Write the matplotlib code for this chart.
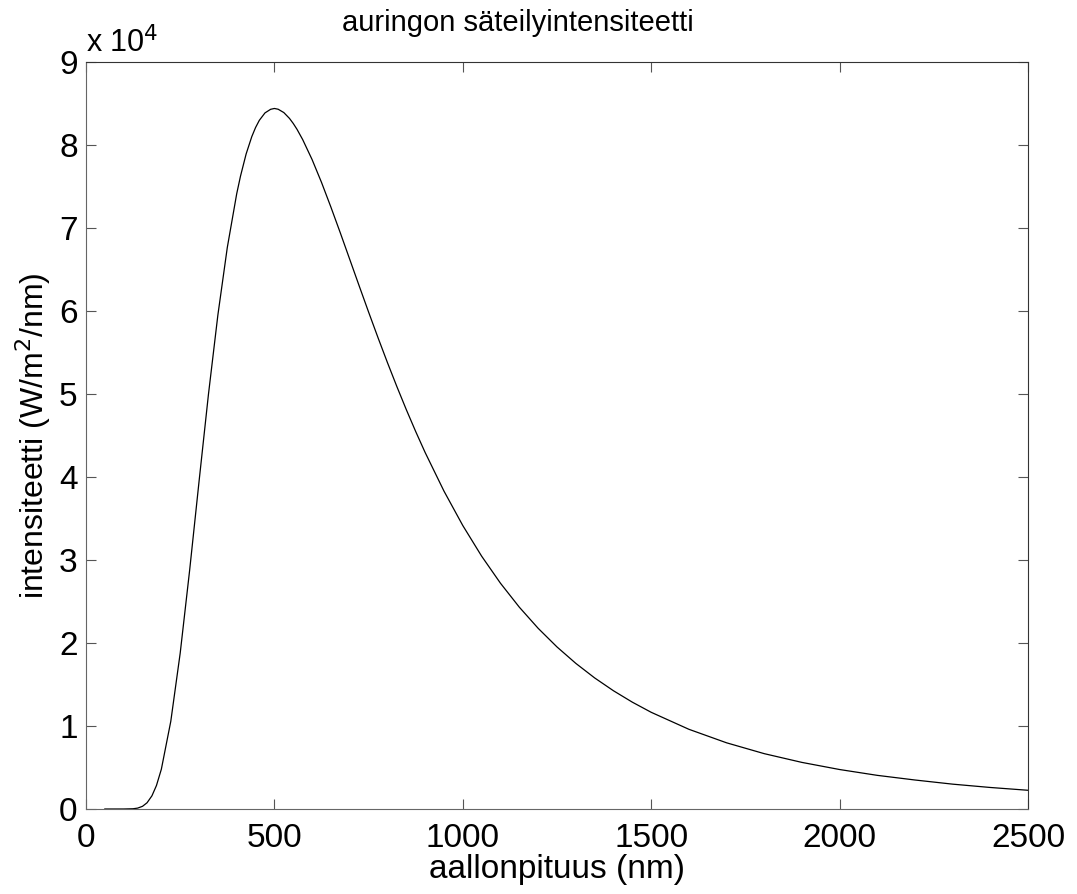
import matplotlib.pyplot as plt

# wavelength (nm) and intensity (W/m^2/nm)
wavelength = [50, 75, 100, 125, 137, 150, 162, 175, 187, 200, 225, 250, 275, 300, 325,
              350, 375, 400, 410, 425, 440, 450, 460, 475, 490, 500, 510, 525, 540,
              550, 560, 575, 600, 625, 650, 675, 700, 725, 750, 775, 800, 825, 850,
              875, 900, 950, 1000, 1050, 1100, 1150, 1200, 1250, 1300, 1350, 1400,
              1450, 1500, 1600, 1700, 1800, 1900, 2000, 2100, 2200, 2300, 2400, 2500]
intensity = [0, 0, 1, 30, 106, 324, 750, 1590, 2833, 4797, 10560, 18781, 28745, 39457,
             49967, 59520, 67653, 74133, 76245, 78926, 81011, 82104, 82972, 83867,
             84301, 84400, 84309, 83908, 83205, 82595, 81890, 80657, 78248, 75497,
             72513, 69402, 66215, 63025, 59870, 56783, 53784, 50896, 48123, 45476,
             42957, 38304, 34151, 30461, 27199, 24316, 21769, 19524, 17543, 15790,
             14242, 12869, 11650, 9604, 7975, 6668, 5614, 4756, 4054, 3494, 2994,
             2593, 2256]

x_ticks = [0, 500, 1000, 1500, 2000, 2500]
y_ticks = [0, 10000, 20000, 30000, 40000, 50000, 60000, 70000, 80000, 90000]
y_tick_labels = ['0', '1', '2', '3', '4', '5', '6', '7', '8', '9']

plt.rcParams['font.family'] = ['Liberation Sans', 'DejaVu Sans']

fig = plt.figure(figsize=(10.77, 8.94), dpi=100)
ax = fig.add_axes([86 / 1077, 1 - 809 / 894, 942 / 1077, 747 / 894])

ax.plot(wavelength, intensity, color='black', linewidth=0.9)

ax.set_xlim(0, 2500)
ax.set_ylim(0, 90000)
ax.set_xticks(x_ticks)
ax.set_xticklabels([str(t) for t in x_ticks])
ax.set_yticks(y_ticks)
ax.set_yticklabels(y_tick_labels)
ax.tick_params(direction='in', length=7, width=0.8, color='#555555',
               top=True, right=True, labelsize=24)
ax.tick_params(axis='x', pad=10)
ax.tick_params(axis='y', pad=6)
for side in ['left', 'bottom']:
    ax.spines[side].set_color('#666666')
for side in ['top', 'right']:
    ax.spines[side].set_color('#333333')

ax.set_xlabel('aallonpituus (nm)', fontsize=24, labelpad=0)
ax.set_ylabel('intensiteetti (W/m$^2$/nm)', fontsize=23, labelpad=4)
fig.text(518 / 1077, 1 - 31 / 894, 'auringon säteilyintensiteetti',
         fontsize=21, ha='center', va='baseline')
fig.text(86 / 1077, 1 - 52 / 894, 'x 10$^4$', fontsize=22, ha='left', va='baseline')

fig.savefig('out.png', dpi=100)
